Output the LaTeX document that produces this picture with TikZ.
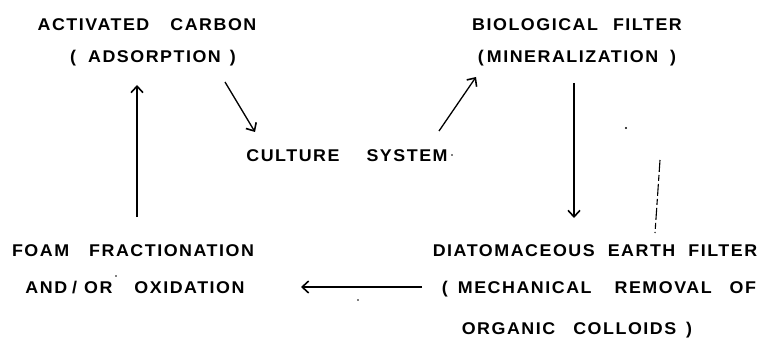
\documentclass[tikz,border=0pt]{standalone}
\usepackage{fontspec}
\setmainfont{Liberation Sans}
\newfontfamily\hand{Liberation Sans}[LetterSpace=9,FakeStretch=1.05]
\usetikzlibrary{arrows.meta,calc}
\newcommand{\gp}[1]{\hspace{#1pt}}
\begin{document}
\begin{tikzpicture}[x=1pt,y=-1pt,
  lbl/.style={inner sep=0pt, font=\hand\bfseries\fontsize{17}{17}\selectfont, text height=12pt, text depth=0pt},
  arr/.style={line width=1.3pt, -{Straight Barb[length=6.5pt,width=12pt,line width=1.6pt]}},
  speck/.style={fill=black, draw=none}]
\useasboundingbox (0,0) rectangle (762,339);
\node[lbl] (ac1) at (147,25) {ACTIVATED\gp{21}CARBON};
\node[lbl] (ac2) at (153,57) {(\gp{12}ADSORPTION\gp{9})};
\node[lbl] (bf1) at (577,25) {BIOLOGICAL\gp{15}FILTER};
\node[lbl] (bf2) at (577,57) {(\gp{3}MINERALIZATION\gp{12})};
\node[lbl] (cs) at (347,155) {CULTURE\gp{27}SYSTEM};
\node[lbl] (foam1) at (133,250) {FOAM\gp{20}FRACTIONATION};
\node[lbl] (foam2) at (135,287) {AND\gp{5}/\gp{7}OR\gp{22}OXIDATION};
\node[lbl] (de1) at (595,250) {DIATOMACEOUS\gp{13}EARTH\gp{13}FILTER};
\node[lbl] (de2) at (599,287) {(\gp{10}MECHANICAL\gp{23}REMOVAL\gp{18}OF};
\node[lbl] (de3) at (577,328) {ORGANIC\gp{18}COLLOIDS\gp{10})};
\draw[arr] ($(foam1.center)+(4,-33)$) -- ($(ac2.center)+(-16,28)$);
\draw[arr] ($(ac2.center)+(72,25)$) -- ($(cs.center)+(-92,-23)$);
\draw[arr] ($(cs.center)+(92,-24)$) -- ($(bf2.center)+(-101,20)$);
\draw[arr] ($(bf2.center)+(-3,26)$) -- ($(de1.center)+(-21,-32)$);
\draw[arr] ($(de2.center)+(-177,0)$) -- ($(foam2.center)+(166,0)$);
\draw[line width=1.1pt, dash pattern=on 12pt off 3pt on 6pt off 3pt] (660,160) -- (655,233);
\fill[speck] (626,128) circle (1.1pt) (452,155) circle (0.9pt) (116,276) circle (0.9pt) (358,300) circle (0.9pt);
\end{tikzpicture}
\end{document}
